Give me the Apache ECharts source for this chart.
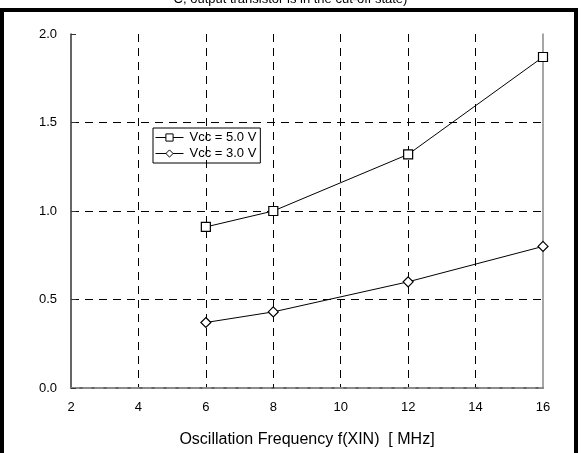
<!DOCTYPE html>
<html>
<head>
<meta charset="utf-8">
<script src="https://cdn.jsdelivr.net/npm/echarts@6/dist/echarts.min.js"></script>
<style>
  html, body { margin: 0; padding: 0; background: #fff; }
  #main { width: 581px; height: 453px; }
</style>
</head>
<body>
<div id="main"></div>
<script>
// frequency f(XIN) in MHz
const freq = [6, 8, 12, 16];
// supply current
const vcc50 = [0.91, 1.0, 1.32, 1.87];
const vcc30 = [0.37, 0.43, 0.60, 0.80];
const seriesNames = ['Vcc = 5.0 V', 'Vcc = 3.0 V'];
const xTitle = 'Oscillation Frequency f(XIN)  [ MHz]';
const topNote = 'C, output transistor is in the cut-off state)';

const font = 'Liberation Sans, Arial, sans-serif';
const chart = echarts.init(document.getElementById('main'), null, { renderer: 'canvas' });

const pairs = (ys) => freq.map((x, i) => [x, ys[i]]);

const option = {
  backgroundColor: '#fff',
  animation: false,
  textStyle: { fontFamily: font },
  grid: { left: 71, right: 38, top: 34, bottom: 61 },
  legend: {
    left: 153, top: 128,
    orient: 'vertical',
    data: seriesNames,
    borderColor: '#000', borderWidth: 1,
    padding: [3, 4, 3, 2],
    itemGap: 3,
    itemWidth: 28, itemHeight: 9,
    lineStyle: { width: 1, color: '#000' },
    itemStyle: { borderWidth: 1 },
    textStyle: { fontFamily: font, fontSize: 13, color: '#000', padding: [0, 0, 0, 1] }
  },
  xAxis: [{
    type: 'value', min: 2, max: 16, interval: 2,
    name: xTitle, nameLocation: 'middle', nameGap: 44,
    nameTextStyle: { fontFamily: font, fontSize: 16, color: '#000' },
    axisLine: { show: true, onZero: false, lineStyle: { color: '#333', width: 1.5 } },
    axisTick: { show: false },
    axisLabel: { color: '#000', fontSize: 13, margin: 13, fontFamily: font },
    splitLine: { show: true, showMinLine: false, showMaxLine: false,
      lineStyle: { color: '#000', type: [8, 6], width: 1 } }
  }, {
    type: 'value', min: 2, max: 16, interval: 2, position: 'top',
    axisLine: { show: true, lineStyle: { color: '#999', type: [8, 4], width: 1.5 } },
    axisTick: { show: false }, axisLabel: { show: false }, splitLine: { show: false }
  }],
  yAxis: [{
    type: 'value', min: 0, max: 2, interval: 0.5,
    axisLine: { show: true, onZero: false, lineStyle: { color: '#333', width: 1.5 } },
    axisTick: { show: true, inside: true, length: 5, lineStyle: { color: '#333' } },
    axisLabel: { color: '#000', fontSize: 13, margin: 14, fontFamily: font,
      formatter: (v) => v.toFixed(1) },
    splitLine: { show: true, showMinLine: false, showMaxLine: false,
      lineStyle: { color: '#000', type: [8, 6], width: 1 } }
  }, {
    type: 'value', min: 0, max: 2, interval: 0.5, position: 'right',
    axisLine: { show: true, lineStyle: { color: '#888', width: 1.5 } },
    axisTick: { show: false }, axisLabel: { show: false }, splitLine: { show: false }
  }],
  series: [{
    name: seriesNames[0], type: 'line', data: pairs(vcc50),
    symbol: 'rect', symbolSize: 9,
    lineStyle: { color: '#000', width: 1 },
    itemStyle: { color: '#fff', borderColor: '#000', borderWidth: 1.2 },
    z: 5
  }, {
    name: seriesNames[1], type: 'line', data: pairs(vcc30),
    symbol: 'diamond', symbolSize: 10,
    lineStyle: { color: '#000', width: 1 },
    itemStyle: { color: '#fff', borderColor: '#000', borderWidth: 1.2 },
    z: 5
  }],
  graphic: [{
    type: 'rect', silent: true, z: 100,
    shape: { x: 2, y: 10, width: 574, height: 480 },
    style: { fill: 'none', stroke: '#000', lineWidth: 4 }
  }, {
    type: 'text', silent: true, z: 100,
    left: 'center', top: -7,
    style: { text: topNote, font: '13px ' + font, fill: '#000' }
  }]
};

chart.setOption(option);
</script>
</body>
</html>
